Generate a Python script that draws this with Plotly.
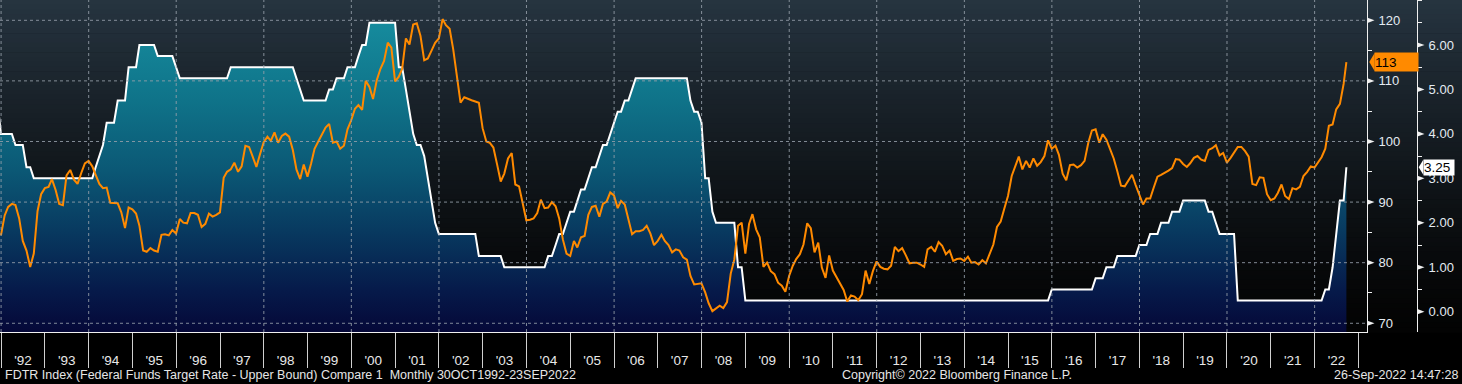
import pandas as pd
import plotly.graph_objects as go

# ---------------- data ----------------
# Fed Funds target rate (upper bound), month-end values Nov 1991 .. Aug 2022
fdtr_1991 = [4.75, 4.0]
fdtr_1992 = [4.0, 4.0, 4.0, 3.75, 3.75, 3.75, 3.25, 3.25, 3.0, 3.0, 3.0, 3.0]
fdtr_1993 = [3.0] * 12
fdtr_1994 = [3.0, 3.25, 3.5, 3.75, 4.25, 4.25, 4.25, 4.75, 4.75, 4.75, 5.5, 5.5]
fdtr_1995 = [5.5, 6.0, 6.0, 6.0, 6.0, 6.0, 5.75, 5.75, 5.75, 5.75, 5.75, 5.5]
fdtr_1996 = [5.25] * 12
fdtr_1997 = [5.25, 5.25] + [5.5] * 10
fdtr_1998 = [5.5] * 8 + [5.25, 5.0, 4.75, 4.75]
fdtr_1999 = [4.75] * 5 + [5.0, 5.0, 5.25, 5.25, 5.25, 5.5, 5.5]
fdtr_2000 = [5.5, 5.75, 6.0, 6.0] + [6.5] * 8
fdtr_2001 = [5.5, 5.5, 5.0, 4.5, 4.0, 3.75, 3.75, 3.5, 3.0, 2.5, 2.0, 1.75]
fdtr_2002 = [1.75] * 10 + [1.25, 1.25]
fdtr_2003 = [1.25] * 5 + [1.0] * 7
fdtr_2004 = [1.0] * 5 + [1.25, 1.25, 1.5, 1.75, 1.75, 2.0, 2.25]
fdtr_2005 = [2.25, 2.5, 2.75, 2.75, 3.0, 3.25, 3.25, 3.5, 3.75, 3.75, 4.0, 4.25]
fdtr_2006 = [4.5, 4.5, 4.75, 4.75, 5.0] + [5.25] * 7
fdtr_2007 = [5.25] * 8 + [4.75, 4.5, 4.5, 4.25]
fdtr_2008 = [3.0, 3.0, 2.25] + [2.0] * 6 + [1.0, 1.0, 0.25]
fdtr_2009_2014 = [0.25] * 72
fdtr_2015 = [0.25] * 11 + [0.5]
fdtr_2016 = [0.5] * 11 + [0.75]
fdtr_2017 = [0.75, 0.75, 1.0, 1.0, 1.0, 1.25, 1.25, 1.25, 1.25, 1.25, 1.25, 1.5]
fdtr_2018 = [1.5, 1.5, 1.75, 1.75, 1.75, 2.0, 2.0, 2.0, 2.25, 2.25, 2.25, 2.5]
fdtr_2019 = [2.5] * 6 + [2.25, 2.25, 2.0, 1.75, 1.75, 1.75]
fdtr_2020 = [1.75, 1.75] + [0.25] * 10
fdtr_2021 = [0.25] * 12
fdtr_2022 = [0.25, 0.25, 0.5, 0.5, 1.0, 1.75, 2.5, 2.5]
fdtr_last_date = "2022-09-23"
fdtr_last = 3.25

# Compare series (dollar index), month-end values Dec 1991 .. Aug 2022
dxy_1991 = [84.5]
dxy_1992 = [87.8, 89.2, 89.7, 89.5, 87.3, 83.6, 82.0, 79.3, 81.5, 88.5, 91.3, 92.3]
dxy_1993 = [92.5, 93.8, 92.0, 89.7, 89.5, 94.4, 95.3, 93.7, 93.0, 94.8, 96.4, 96.8]
dxy_1994 = [95.9, 94.5, 93.0, 92.3, 92.4, 89.9, 89.8, 89.8, 88.3, 85.7, 89.1, 88.8]
dxy_1995 = [88.1, 86.1, 82.0, 81.8, 82.4, 82.0, 81.8, 84.6, 84.7, 84.5, 85.4, 84.8]
dxy_1996 = [87.2, 86.6, 86.5, 88.2, 88.2, 87.9, 85.9, 86.4, 88.1, 87.6, 87.9, 88.3]
dxy_1997 = [94.0, 95.0, 95.4, 96.5, 95.0, 95.9, 99.3, 99.1, 97.5, 95.8, 97.9, 99.9]
dxy_1998 = [100.8, 100.1, 101.5, 99.8, 100.9, 101.3, 100.8, 98.6, 95.4, 93.8, 96.2, 94.2]
dxy_1999 = [96.4, 98.8, 100.0, 101.2, 102.3, 102.9, 99.8, 100.0, 98.8, 99.3, 102.0, 103.5]
dxy_2000 = [105.4, 106.0, 105.2, 110.0, 109.0, 107.0, 110.1, 112.0, 113.3, 116.3, 115.5, 109.9]
dxy_2001 = [110.7, 112.0, 117.0, 116.0, 119.3, 119.5, 117.4, 113.4, 113.7, 115.0, 116.3, 117.0]
dxy_2002 = [120.2, 119.2, 118.6, 115.2, 111.0, 106.4, 107.3, 107.0, 106.8, 106.6, 106.4, 102.2]
dxy_2003 = [100.0, 99.8, 99.0, 96.3, 93.4, 94.7, 97.2, 98.1, 92.9, 92.6, 89.8, 87.0]
dxy_2004 = [87.1, 87.3, 88.2, 90.4, 89.0, 89.1, 90.0, 89.3, 87.3, 83.8, 81.5, 81.1]
dxy_2005 = [83.6, 82.5, 84.2, 84.4, 87.9, 89.2, 89.4, 87.6, 89.7, 90.1, 91.6, 91.1]
dxy_2006 = [89.0, 90.2, 89.6, 87.0, 84.7, 85.2, 85.2, 85.4, 86.1, 84.8, 82.9, 83.6]
dxy_2007 = [84.6, 83.6, 82.9, 81.7, 82.2, 82.0, 80.9, 80.5, 77.8, 76.4, 76.5, 76.6]
dxy_2008 = [75.1, 73.3, 72.0, 72.5, 72.9, 72.5, 73.5, 78.2, 80.5, 86.1, 86.6, 81.5]
dxy_2009 = [86.4, 88.0, 85.5, 84.2, 79.3, 80.0, 78.6, 78.1, 76.7, 76.2, 75.2, 77.8]
dxy_2010 = [79.5, 80.6, 81.4, 83.0, 86.5, 85.7, 81.7, 83.3, 79.2, 77.5, 81.2, 78.7]
dxy_2011 = [77.6, 76.8, 75.5, 73.6, 74.6, 74.4, 73.8, 74.8, 78.7, 76.5, 78.6, 80.2]
dxy_2012 = [79.3, 79.0, 78.9, 79.5, 82.6, 81.9, 82.4, 81.2, 79.9, 80.0, 80.0, 79.7]
dxy_2013 = [79.3, 82.2, 82.6, 81.8, 83.4, 82.8, 81.4, 82.0, 80.3, 80.6, 80.7, 80.3]
dxy_2014 = [81.0, 80.0, 80.1, 79.7, 80.4, 79.9, 81.6, 83.0, 85.9, 86.8, 88.9, 91.0]
dxy_2015 = [94.3, 95.7, 97.5, 95.4, 96.8, 95.7, 97.2, 96.0, 96.6, 97.6, 100.2, 98.8]
dxy_2016 = [99.3, 97.8, 94.7, 93.6, 96.1, 96.2, 95.7, 96.1, 96.8, 99.8, 101.8, 102.0]
dxy_2017 = [99.8, 101.2, 100.3, 98.8, 97.2, 95.1, 92.7, 92.6, 93.5, 94.5, 92.8, 91.3]
dxy_2018 = [89.6, 90.6, 90.6, 92.4, 94.2, 94.5, 94.8, 95.2, 95.6, 97.1, 97.0, 96.3]
dxy_2019 = [95.8, 96.4, 97.3, 97.6, 97.0, 96.8, 98.6, 98.9, 99.4, 97.7, 98.1, 96.5]
dxy_2020 = [97.3, 98.2, 99.1, 99.1, 98.4, 97.5, 93.0, 92.8, 94.1, 94.0, 91.3, 90.3]
dxy_2021 = [90.6, 91.5, 92.9, 91.0, 90.5, 92.3, 92.1, 92.5, 94.3, 95.0, 95.9, 95.7]
dxy_2022 = [96.6, 97.4, 98.8, 102.6, 102.8, 105.3, 106.2, 109.5]
dxy_last_date = "2022-09-23"
dxy_last = 113.1

years = list(range(1992, 2023))
index_ticks = [70, 80, 90, 100, 110, 120]
rate_ticks = [0, 1, 2, 3, 4, 5, 6]

footer_left = "FDTR Index (Federal Funds Target Rate - Upper Bound) Compare 1\u00a0\u00a0Monthly 30OCT1992-23SEP2022"
footer_mid = "Copyright\u00a9 2022 Bloomberg Finance L.P."
footer_right = "26-Sep-2022 14:47:28"

# ---------------- assemble ----------------
fdtr_vals = (fdtr_1991 + fdtr_1992 + fdtr_1993 + fdtr_1994 + fdtr_1995 + fdtr_1996 + fdtr_1997
             + fdtr_1998 + fdtr_1999 + fdtr_2000 + fdtr_2001 + fdtr_2002 + fdtr_2003 + fdtr_2004
             + fdtr_2005 + fdtr_2006 + fdtr_2007 + fdtr_2008 + fdtr_2009_2014 + fdtr_2015
             + fdtr_2016 + fdtr_2017 + fdtr_2018 + fdtr_2019 + fdtr_2020 + fdtr_2021 + fdtr_2022)
dxy_vals = (dxy_1991 + dxy_1992 + dxy_1993 + dxy_1994 + dxy_1995 + dxy_1996 + dxy_1997 + dxy_1998
            + dxy_1999 + dxy_2000 + dxy_2001 + dxy_2002 + dxy_2003 + dxy_2004 + dxy_2005 + dxy_2006
            + dxy_2007 + dxy_2008 + dxy_2009 + dxy_2010 + dxy_2011 + dxy_2012 + dxy_2013 + dxy_2014
            + dxy_2015 + dxy_2016 + dxy_2017 + dxy_2018 + dxy_2019 + dxy_2020 + dxy_2021 + dxy_2022)


def month_ends(start, n):
    d = pd.date_range(start, periods=n, freq="MS") + pd.offsets.MonthEnd(0)
    return [x.strftime("%Y-%m-%d") for x in d]


fdtr_dates = month_ends("1991-11-01", len(fdtr_vals)) + [fdtr_last_date]
fdtr_y = fdtr_vals + [fdtr_last]
dxy_dates = month_ends("1991-12-01", len(dxy_vals)) + [dxy_last_date]
dxy_y = dxy_vals + [dxy_last]

# ---------------- geometry / style ----------------
W, H = 1462, 384
PLOT_H = 332
PLOT_RIGHT = 1367
RATE_AXIS_X = 1417
X_START, X_END = "1991-12-23", "2023-03-14"
IDX_MIN, IDX_MAX = 68.56, 123.35
RATE_MIN, RATE_MAX = -0.457, 7.012
FILL_TOP = 6.6
ORANGE = "#ff8a00"
GRID = "rgba(150,160,170,0.85)"
AXIS_C = "#f0f0f0"
LABEL_C = "#e4ebf2"
FONT = "Liberation Sans"
BG_TOP = (0x26, 0x34, 0x40)
BG_BOT = (0x03, 0x03, 0x03)
fill_scale = [
    [0.0, "#050838"], [0.133, "#061a4a"], [0.324, "#083a60"],
    [0.515, "#0b5875"], [0.739, "#0f7389"], [1.0, "#168c9e"],
]

dom = PLOT_RIGHT / W
ppu_idx = PLOT_H / (IDX_MAX - IDX_MIN)
ppu_rate = PLOT_H / (RATE_MAX - RATE_MIN)

fig = go.Figure()
fig.add_trace(go.Scatter(x=fdtr_dates, y=[RATE_MIN] * len(fdtr_dates), mode="lines",
                         line=dict(width=0, color="rgba(0,0,0,0)"), hoverinfo="skip",
                         xaxis="x", yaxis="y", showlegend=False))
fig.add_trace(go.Scatter(x=fdtr_dates, y=fdtr_y, mode="lines", name="FDTR",
                         line=dict(color="#ffffff", width=2), fill="tonexty",
                         fillgradient=dict(type="vertical", colorscale=fill_scale,
                                           start=RATE_MIN, stop=FILL_TOP),
                         xaxis="x", yaxis="y", showlegend=False))
fig.add_trace(go.Scatter(x=dxy_dates, y=dxy_y, mode="lines", name="Compare 1",
                         line=dict(color=ORANGE, width=2),
                         xaxis="x2", yaxis="y2", showlegend=False))

shapes = []
# background gradient
N = 70
for i in range(N):
    t = (i + 0.5) / N
    w = 1 - (1 - t) ** 1.3
    c = tuple(round(BG_TOP[k] + (BG_BOT[k] - BG_TOP[k]) * w) for k in range(3))
    shapes.append(dict(type="rect", xref="paper", yref="paper", x0=0, x1=1,
                       y0=1 - (i + 1) / N - 0.002, y1=1 - i / N,
                       fillcolor="rgb(%d,%d,%d)" % c, line=dict(width=0), layer="below"))
# grid lines (drawn above the fill, as in the reference)
for v in index_ticks:
    shapes.append(dict(type="line", xref="paper", x0=0, x1=dom, yref="y2", y0=v, y1=v,
                       line=dict(color=GRID, width=1, dash="3px,3px"), layer="above"))
for yr in years[::2]:
    shapes.append(dict(type="line", xref="x", x0=f"{yr}-01-01", x1=f"{yr}-01-01",
                       yref="paper", y0=0, y1=1,
                       line=dict(color=GRID, width=1, dash="3px,3px"), layer="above"))

# triangular tick markers on both value axes
def tri(x_axis_px, yref, v, ppu, length=7.5, half=2.6):
    x0 = (x_axis_px + 0.5) / W
    x1 = (x_axis_px + length) / W
    hh = half / ppu
    return dict(type="path", xref="paper", yref=yref,
                path=f"M {x0},{v + hh} L {x1},{v} L {x0},{v - hh} Z",
                fillcolor=AXIS_C, line=dict(width=0), layer="above")


for v in index_ticks:
    shapes.append(tri(PLOT_RIGHT, "y2", v, ppu_idx))
for v in rate_ticks:
    shapes.append(tri(RATE_AXIS_X, "y", v, ppu_rate))

# value tag pointers
h1 = 9 / ppu_idx
xt, xb = 1369.3 / W, 1374.6 / W
shapes.append(dict(type="path", xref="paper", yref="y2",
                   path=f"M {xt},{dxy_last} L {xb},{dxy_last + h1} L {xb},{dxy_last - h1} Z",
                   fillcolor=ORANGE, line=dict(width=0), layer="above"))
h2 = 7.5 / ppu_rate
xt2, xb2 = 1418.7 / W, 1423.3 / W
shapes.append(dict(type="path", xref="paper", yref="y",
                   path=f"M {xt2},{fdtr_last} L {xb2},{fdtr_last + h2} L {xb2},{fdtr_last - h2} Z",
                   fillcolor="#ffffff", line=dict(width=0), layer="above"))

annotations = [
    dict(text=f"{dxy_last:.0f}", xref="paper", x=1374 / W, xanchor="left", yref="y2", y=dxy_last,
         yanchor="middle", showarrow=False, bgcolor=ORANGE, width=43, height=18, borderpad=0,
         align="left", font=dict(family=FONT, size=13.5, color="#000000")),
    dict(text=f"{fdtr_last:.2f}", xref="paper", x=1423 / W, xanchor="left", yref="y", y=fdtr_last,
         yanchor="middle", showarrow=False, bgcolor="#ffffff", width=30, height=15, borderpad=0,
         align="left", font=dict(family=FONT, size=13.5, color="#000000")),
    dict(text=footer_left, xref="paper", x=0, xanchor="left", xshift=3, yref="paper", y=0,
         yanchor="middle", yshift=-43, showarrow=False,
         font=dict(family=FONT, size=12.5, color="#e6e6e6")),
    dict(text=footer_mid, xref="paper", x=840 / W, xanchor="left", yref="paper", y=0,
         yanchor="middle", yshift=-43, showarrow=False,
         font=dict(family=FONT, size=12.5, color="#e6e6e6")),
    dict(text=footer_right, xref="paper", x=1, xanchor="right", xshift=-2, yref="paper", y=0,
         yanchor="middle", yshift=-43, showarrow=False,
         font=dict(family=FONT, size=12.5, color="#e6e6e6")),
]

boundaries = [f"{y}-01-01" for y in years + [years[-1] + 1]]

fig.update_layout(
    width=W, height=H, margin=dict(l=0, r=0, t=0, b=H - PLOT_H, pad=0),
    paper_bgcolor="#000000", plot_bgcolor="rgba(0,0,0,0)", showlegend=False,
    font=dict(family=FONT, color=LABEL_C), shapes=shapes, annotations=annotations,
    xaxis=dict(type="date", domain=[0, dom], range=[X_START, X_END], anchor="y",
               showgrid=False, zeroline=False, showline=True, linecolor=AXIS_C, linewidth=1,
               ticks="outside", ticklen=35, tickwidth=1, tickcolor="#d0d0d0",
               tickmode="array", tickvals=boundaries, showticklabels=False,
               automargin=False, fixedrange=True),
    xaxis2=dict(type="date", domain=[0, dom], overlaying="x", anchor="y2", side="bottom",
                range=[X_START, X_END], tickmode="array",
                tickvals=[f"{y}-07-02" for y in years],
                ticktext=[f"'{y % 100:02d}" for y in years],
                ticks="outside", ticklen=16, tickcolor="rgba(0,0,0,0)",
                showgrid=False, showline=False, zeroline=False,
                tickfont=dict(family=FONT, size=13.5, color="#e8e8e8"),
                automargin=False, fixedrange=True),
    yaxis=dict(range=[RATE_MIN, RATE_MAX], side="right", anchor="free",
               position=RATE_AXIS_X / W, tickmode="array", tickvals=rate_ticks,
               tickformat=".2f", ticks="outside", ticklen=8, tickwidth=1,
               tickcolor="rgba(0,0,0,0)",
               minor=dict(tickmode="linear", tick0=0, dtick=0.5, ticks="outside", ticklen=4,
                          tickwidth=1, tickcolor=AXIS_C, showgrid=False),
               showline=True, linecolor=AXIS_C, linewidth=1, showgrid=False, zeroline=False,
               tickfont=dict(family=FONT, size=13, color=LABEL_C), automargin=False,
               fixedrange=True),
    yaxis2=dict(range=[IDX_MIN, IDX_MAX], overlaying="y", side="right", anchor="x2",
                tickmode="array", tickvals=index_ticks, ticks="outside", ticklen=8,
                tickwidth=1, tickcolor="rgba(0,0,0,0)",
                minor=dict(tickmode="linear", tick0=0, dtick=5, ticks="outside", ticklen=4,
                           tickwidth=1, tickcolor=AXIS_C, showgrid=False),
                showline=True, linecolor=AXIS_C, linewidth=1, showgrid=False, zeroline=False,
                tickfont=dict(family=FONT, size=13, color=LABEL_C), automargin=False,
                fixedrange=True),
)

fig.write_html("out.html", config={"displayModeBar": False},
               post_script="document.body.style.margin='0';document.body.style.background='#000';")
